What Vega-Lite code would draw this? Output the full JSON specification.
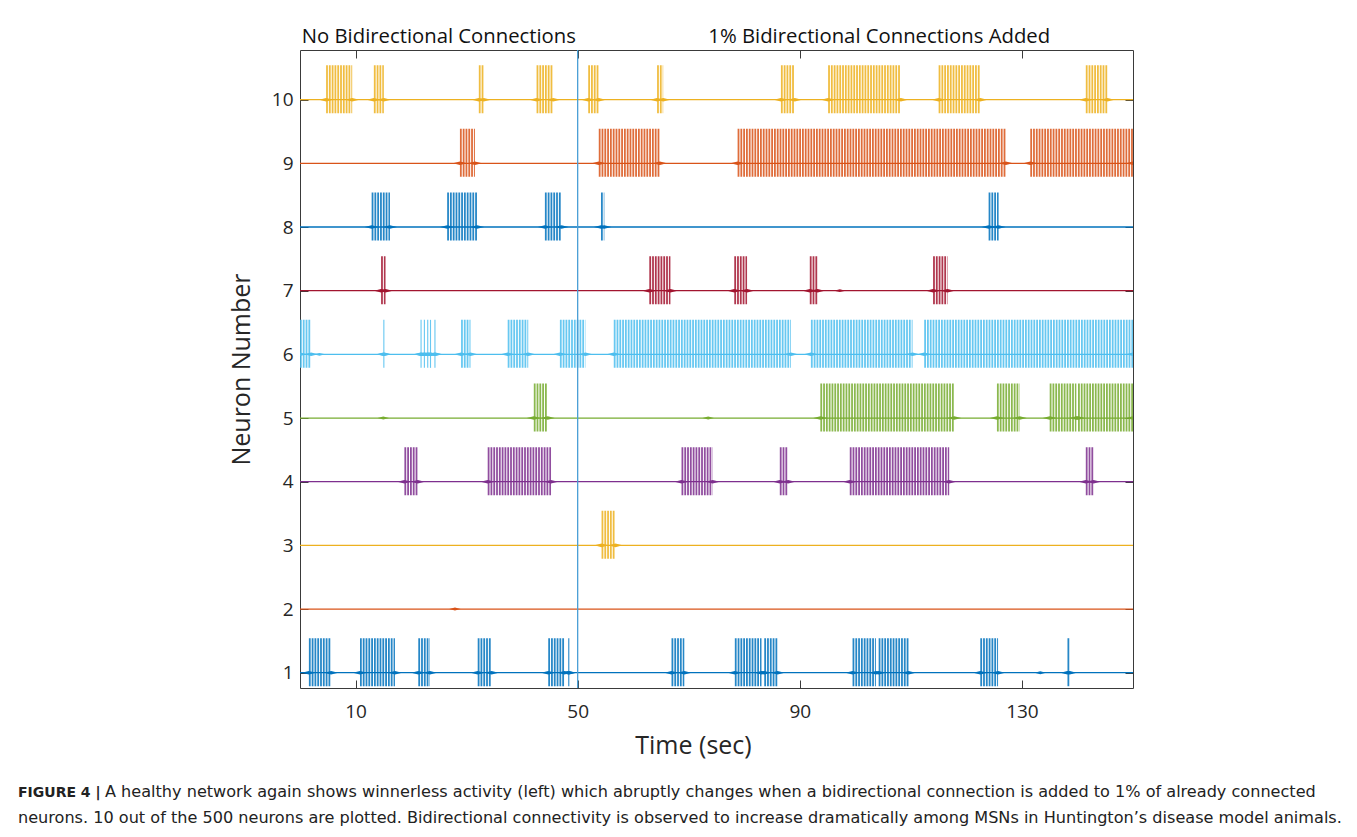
{
  "$schema": "https://vega.github.io/schema/vega-lite/v6.json",
  "width": 833,
  "height": 638,
  "autosize": {"type": "none"},
  "padding": {"left": 300, "top": 50, "right": 224, "bottom": 149},
  "background": "white",
  "config": {
    "view": {"stroke": "#3a3a3a", "strokeWidth": 1},
    "axis": {
      "grid": false,
      "domain": false,
      "tickColor": "#3a3a3a",
      "tickWidth": 1,
      "labelColor": "#262626",
      "titleColor": "#262626",
      "labelFont": "Open Sans",
      "titleFont": "Open Sans",
      "titleFontWeight": "normal"
    }
  },
  "title": {
    "text": "FIGURE 4 |",
    "subtitle": [
      "\u200b\u00a0\u00a0\u00a0\u00a0\u00a0\u00a0\u00a0\u00a0\u00a0\u00a0\u00a0\u00a0\u00a0\u00a0\u00a0\u00a0\u00a0A healthy network again shows winnerless activity (left) which abruptly changes when a bidirectional connection is added to 1% of already connected",
      "neurons. 10 out of the 500 neurons are plotted. Bidirectional connectivity is observed to increase dramatically among MSNs in Huntington’s disease model animals."
    ],
    "orient": "bottom",
    "anchor": "start",
    "frame": "group",
    "dx": -282,
    "offset": 28,
    "font": "DejaVu Sans",
    "fontSize": 14,
    "fontWeight": "bold",
    "color": "#222222",
    "subtitleFont": "DejaVu Sans",
    "subtitleFontSize": 16.1,
    "subtitleColor": "#222222",
    "subtitleLineHeight": 26,
    "subtitlePadding": -16
  },
  "datasets": {
    "neurons": [
      {"neuron": 1}, {"neuron": 2}, {"neuron": 3}, {"neuron": 4}, {"neuron": 5},
      {"neuron": 6}, {"neuron": 7}, {"neuron": 8}, {"neuron": 9}, {"neuron": 10}
    ],
    "bursts": [
      {"neuron": 10, "start": 4.7, "end": 9.4},
      {"neuron": 10, "start": 13.3, "end": 15.1},
      {"neuron": 10, "start": 32.2, "end": 33.1},
      {"neuron": 10, "start": 42.6, "end": 45.6},
      {"neuron": 10, "start": 51.9, "end": 53.8},
      {"neuron": 10, "start": 64.3, "end": 65.4},
      {"neuron": 10, "start": 86.6, "end": 89.1},
      {"neuron": 10, "start": 95.1, "end": 108.2},
      {"neuron": 10, "start": 115.0, "end": 122.5},
      {"neuron": 10, "start": 141.5, "end": 145.4},
      {"neuron": 9, "start": 28.8, "end": 31.5},
      {"neuron": 9, "start": 53.8, "end": 64.8},
      {"neuron": 9, "start": 78.8, "end": 127.1},
      {"neuron": 9, "start": 131.5, "end": 150},
      {"neuron": 8, "start": 12.9, "end": 16.2},
      {"neuron": 8, "start": 26.5, "end": 31.9},
      {"neuron": 8, "start": 44.1, "end": 47.1},
      {"neuron": 8, "start": 54.2, "end": 54.8},
      {"neuron": 8, "start": 124.0, "end": 125.8},
      {"neuron": 7, "start": 14.6, "end": 15.4},
      {"neuron": 7, "start": 62.9, "end": 66.7},
      {"neuron": 7, "start": 78.2, "end": 80.5},
      {"neuron": 7, "start": 91.8, "end": 93.2},
      {"neuron": 7, "start": 114.0, "end": 116.6},
      {"neuron": 6, "start": 0, "end": 2.0},
      {"neuron": 6, "start": 15.0, "end": 15.2},
      {"neuron": 6, "start": 21.7, "end": 21.9},
      {"neuron": 6, "start": 22.3, "end": 22.5},
      {"neuron": 6, "start": 22.9, "end": 23.1},
      {"neuron": 6, "start": 23.4, "end": 23.6},
      {"neuron": 6, "start": 24.2, "end": 24.4},
      {"neuron": 6, "start": 29.0, "end": 30.7},
      {"neuron": 6, "start": 37.4, "end": 41.1},
      {"neuron": 6, "start": 46.8, "end": 51.4},
      {"neuron": 6, "start": 56.5, "end": 88.4},
      {"neuron": 6, "start": 92.0, "end": 110.3},
      {"neuron": 6, "start": 112.4, "end": 150},
      {"neuron": 5, "start": 42.1, "end": 44.6},
      {"neuron": 5, "start": 93.7, "end": 117.8},
      {"neuron": 5, "start": 125.5, "end": 129.6},
      {"neuron": 5, "start": 135.0, "end": 139.8},
      {"neuron": 5, "start": 140.1, "end": 150},
      {"neuron": 4, "start": 18.8, "end": 21.2},
      {"neuron": 4, "start": 33.8, "end": 45.2},
      {"neuron": 4, "start": 68.7, "end": 74.3},
      {"neuron": 4, "start": 86.4, "end": 87.9},
      {"neuron": 4, "start": 99.0, "end": 116.9},
      {"neuron": 4, "start": 141.5, "end": 142.9},
      {"neuron": 3, "start": 54.3, "end": 56.8},
      {"neuron": 1, "start": 1.6, "end": 5.6},
      {"neuron": 1, "start": 10.8, "end": 17.1},
      {"neuron": 1, "start": 21.3, "end": 23.4},
      {"neuron": 1, "start": 32.0, "end": 34.5},
      {"neuron": 1, "start": 44.7, "end": 47.6},
      {"neuron": 1, "start": 48.3, "end": 48.5},
      {"neuron": 1, "start": 66.9, "end": 69.2},
      {"neuron": 1, "start": 78.3, "end": 83.1},
      {"neuron": 1, "start": 83.6, "end": 86.0},
      {"neuron": 1, "start": 99.5, "end": 103.7},
      {"neuron": 1, "start": 104.2, "end": 109.6},
      {"neuron": 1, "start": 122.5, "end": 125.7},
      {"neuron": 1, "start": 138.2, "end": 138.6}
    ],
    "quiet": [
      {"neuron": 5, "t": 15.0},
      {"neuron": 5, "t": 73.5},
      {"neuron": 7, "t": 97.2},
      {"neuron": 2, "t": 27.9},
      {"neuron": 1, "t": 133.3},
      {"neuron": 6, "t": 3.5}
    ],
    "onset": [{"t": 50}],
    "phases": [
      {"label": "No Bidirectional Connections", "t": 25.0, "v": 10.885},
      {"label": "1% Bidirectional Connections Added", "t": 104.3, "v": 10.885}
    ]
  },
  "resolve": {"axis": {"x": "independent", "y": "independent"}},
  "layer": [
    {
      "data": {"name": "neurons"},
      "mark": {"type": "rule", "strokeWidth": 1.3},
      "encoding": {
        "y": {
          "field": "neuron", "type": "quantitative",
          "scale": {"domain": [0.76, 10.78], "nice": false, "zero": false},
          "axis": {
            "orient": "left", "values": [1, 2, 3, 4, 5, 6, 7, 8, 9, 10],
            "tickSize": -8, "labelPadding": 15, "labelFontSize": 19,
            "title": "Neuron Number", "titleFontSize": 25, "titlePadding": 17
          }
        },
        "color": {
          "field": "neuron", "type": "nominal",
          "scale": {
            "domain": [1, 2, 3, 4, 5, 6, 7, 8, 9, 10],
            "range": ["#0072BD", "#D95319", "#EDB120", "#7E2F8E", "#77AC30", "#4DBEEE", "#A2142F", "#0072BD", "#D95319", "#EDB120"]
          },
          "legend": null
        }
      }
    },
    {
      "data": {"name": "bursts"},
      "mark": {"type": "rule", "strokeWidth": 48, "strokeDash": [1.8, 1.0], "strokeCap": "butt", "yOffset": -10.5, "clip": true, "strokeOpacity": 0.85},
      "encoding": {
        "x": {
          "field": "start", "type": "quantitative",
          "scale": {"domain": [0, 150], "nice": false, "zero": false},
          "axis": {
            "orient": "bottom", "values": [10, 50, 90, 130],
            "tickSize": -8, "labelPadding": 22, "labelFontSize": 19,
            "title": "Time (sec)", "titleFontSize": 25,
            "titleX": 393, "titleY": 57, "titleBaseline": "middle", "titleAlign": "center"
          }
        },
        "x2": {"field": "end"},
        "y": {
          "field": "neuron", "type": "quantitative",
          "axis": {"orient": "right", "values": [1, 2, 3, 4, 5, 6, 7, 8, 9, 10], "tickSize": -8, "labels": false, "title": null}
        },
        "color": {"field": "neuron", "type": "nominal", "legend": null}
      }
    },
    {
      "data": {"name": "bursts"},
      "mark": {"type": "point", "shape": "M-1,0L0,-0.25L1,0L0,0.25Z", "size": 200, "filled": true, "opacity": 1, "clip": true},
      "encoding": {
        "x": {"field": "start", "type": "quantitative", "axis": null},
        "y": {"field": "neuron", "type": "quantitative", "axis": null},
        "color": {"field": "neuron", "type": "nominal", "legend": null}
      }
    },
    {
      "data": {"name": "bursts"},
      "mark": {"type": "point", "shape": "M-1,0L0,-0.25L1,0L0,0.25Z", "size": 200, "filled": true, "opacity": 1, "clip": true},
      "encoding": {
        "x": {"field": "end", "type": "quantitative", "axis": null},
        "y": {"field": "neuron", "type": "quantitative", "axis": null},
        "color": {"field": "neuron", "type": "nominal", "legend": null}
      }
    },
    {
      "data": {"name": "quiet"},
      "mark": {"type": "point", "shape": "M-1,0L0,-0.25L1,0L0,0.25Z", "size": 130, "filled": true, "opacity": 1, "clip": true},
      "encoding": {
        "x": {"field": "t", "type": "quantitative", "axis": null},
        "y": {"field": "neuron", "type": "quantitative", "axis": null},
        "color": {"field": "neuron", "type": "nominal", "legend": null}
      }
    },
    {
      "data": {"name": "onset"},
      "mark": {"type": "rule", "color": "#4a9fd6", "strokeWidth": 1.3},
      "encoding": {
        "x": {
          "field": "t", "type": "quantitative",
          "axis": {"orient": "top", "values": [10, 50, 90, 130], "tickSize": -8, "labels": false, "title": null}
        }
      }
    },
    {
      "data": {"name": "phases"},
      "mark": {"type": "text", "font": "Open Sans", "fontSize": 20.3, "color": "#111111", "align": "center", "baseline": "alphabetic"},
      "encoding": {
        "x": {"field": "t", "type": "quantitative", "axis": null},
        "y": {"field": "v", "type": "quantitative", "axis": null},
        "text": {"field": "label"}
      }
    }
  ]
}
